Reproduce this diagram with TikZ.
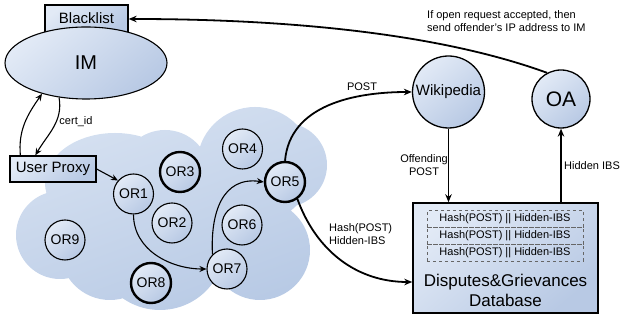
\documentclass[tikz,border=0pt]{standalone}
\usepackage{fontspec}
\setmainfont{Liberation Sans}
\usetikzlibrary{shapes.geometric,arrows.meta,calc}
\definecolor{lite}{RGB}{226,234,246}
\definecolor{dark}{RGB}{184,201,228}
\definecolor{cloudA}{RGB}{214,225,241}
\definecolor{cloudB}{RGB}{184,202,229}
\begin{document}
\begin{tikzpicture}[x=1pt,y=1pt,
  grad/.style={shade, shading=axis, top color=lite, bottom color=dark, shading angle=40},
  ornode/.style={circle, grad, draw, line width=1.1pt, minimum size=40pt, inner sep=0pt, font=\fontsize{14}{16}\selectfont},
  orthick/.style={ornode, line width=2.4pt},
  boxnode/.style={rectangle, grad, draw, line width=1.3pt, inner sep=0pt},
  arr/.style={-{Stealth[length=7pt,width=6pt]}, line width=1.1pt},
  bigarr/.style={-{Stealth[length=8pt,width=6.5pt]}, line width=1.8pt},
  lbl/.style={font=\fontsize{11}{13}\selectfont, inner sep=0pt},
  hashrow/.style={draw, dashed, draw=black!60, text=black, line width=0.6pt, minimum width=156pt, minimum height=16.5pt, inner sep=0pt, font=\fontsize{11}{13}\selectfont}
]
\useasboundingbox (0,0) rectangle (620,320);

% cloud
\shade[top color=cloudA, bottom color=cloudB, shading angle=20]
  (60,85) circle (44)
  (110,70) circle (50)
  (115,137) ellipse [x radius=70, y radius=50]
  (165,145) circle (45)
  (255,155) circle (58)
  (285,155) circle (42)
  (160,75) circle (65)
  (260,70) circle (50)
  (215,105) circle (50);

% Identity manager
\node[boxnode, minimum width=83pt, minimum height=28pt, font=\fontsize{15}{17}\selectfont] (BL) at (86.5,301) {\raisebox{2pt}{Blacklist}};
\node[ellipse, grad, draw, line width=1.1pt, minimum width=162pt, minimum height=72pt, inner sep=0pt, font=\fontsize{20}{22}\selectfont] (IM) at (86,257) {IM};

\node[boxnode, minimum width=86pt, minimum height=26pt, font=\fontsize{15}{17}\selectfont] (UP) at (53,151) {User Proxy};

% onion routers
\node[ornode]  (OR1) at (133.5,126) {OR1};
\node[ornode]  (OR2) at (172,97) {OR2};
\node[orthick] (OR3) at (180,148) {OR3};
\node[ornode]  (OR4) at (242.5,171) {OR4};
\node[orthick] (OR5) at (285,138) {OR5};
\node[ornode]  (OR6) at (242,95) {OR6};
\node[ornode]  (OR7) at (227,51) {OR7};
\node[orthick] (OR8) at (151,37) {OR8};
\node[ornode]  (OR9) at (65,80) {OR9};

% services
\node[circle, grad, draw, line width=1.3pt, minimum size=72pt, inner sep=0pt, font=\fontsize{15}{17}\selectfont] (Wiki) at (448.5,228) {Wikipedia};
\node[circle, grad, draw, line width=1.3pt, minimum size=58pt, inner sep=0pt, font=\fontsize{21}{23}\selectfont] (OA) at (561,221) {OA};

\node[boxnode, line width=1.5pt, minimum width=185pt, minimum height=110pt] (DB) at (505.5,62) {};
\node[hashrow] (H1) at (505,101) {Hash(POST) || Hidden-IBS};
\node[hashrow] (H2) at (505,84) {Hash(POST) || Hidden-IBS};
\node[hashrow] (H3) at (505,67) {Hash(POST) || Hidden-IBS};
\node[align=center, inner sep=0pt, font=\fontsize{17}{20}\selectfont] (DBT) at (505.5,30) {Disputes\&Grievances\\Database};

% connectors
\draw[arr] ([xshift=11pt]UP.north west) to[out=95, in=235] (IM.215);
\draw[arr] (IM.232) to[out=-80, in=60] ([xshift=26pt]UP.north west);
\node[lbl] (cert) at (76,198) {cert\_id};

\draw[arr] (UP.east) -- (OR1.139);
\draw[arr] (OR1.south) to[out=-90, in=180] (OR7.west);
\draw[arr] (OR7.135) to[out=93, in=172, looseness=1.2] (OR5.west);

\draw[bigarr] (OR5.north) to[out=85, in=180] (Wiki.west);
\node[lbl] (post) at (362,233) {POST};

\draw[bigarr] (OR5.-54) to[out=-70, in=180] ([yshift=-24pt]DB.west);
\node[lbl, anchor=west, align=left] (hashlbl) at (329,86) {Hash(POST)\\Hidden-IBS};

\draw[bigarr] (Wiki.south) -- (Wiki.south |- DB.north);
\node[lbl, align=center] (off) at (424,155) {Offending\\POST};

\draw[bigarr] (DB.north -| OA.south) -- (OA.south);
\node[lbl, anchor=west] (hid) at (564,154) {Hidden IBS};

\draw[bigarr] (OA.118) .. controls +(160:120) and +(0:150) .. (BL.east);
\node[lbl, anchor=west, align=left] (top) at (427,299) {If open request accepted, then\\send offender's IP address to IM};
\end{tikzpicture}
\end{document}
